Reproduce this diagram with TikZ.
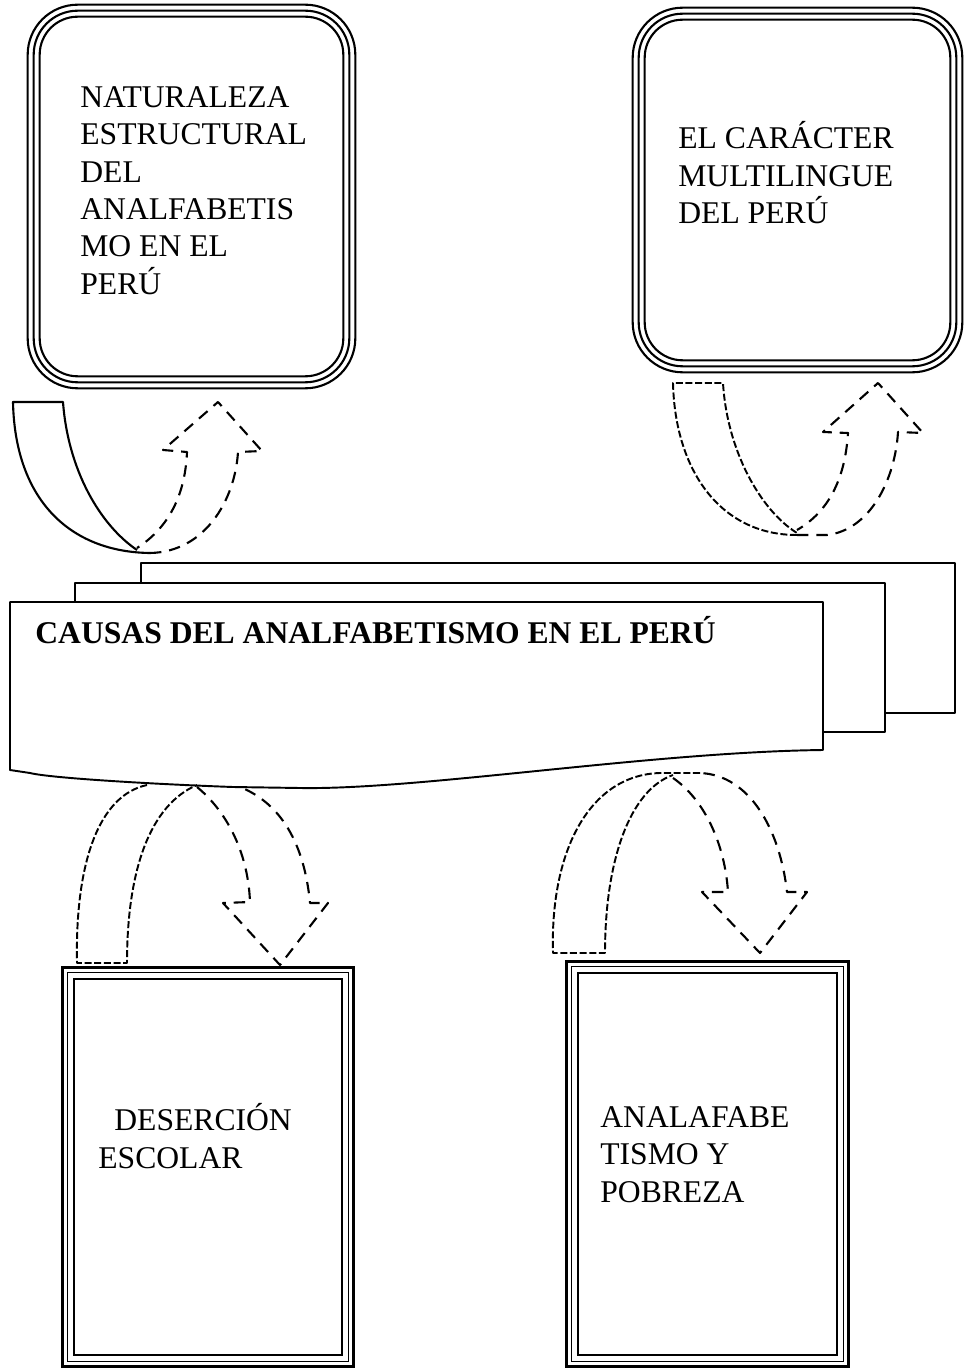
\documentclass[tikz,border=0pt]{standalone}
\usepackage{fontspec}
\setmainfont{Liberation Serif}
\usetikzlibrary{positioning,calc}

\tikzset{
  boxtxt/.style={font=\fontsize{18}{21.3}\selectfont, align=left, inner sep=0pt},
  boxhold/.style={inner sep=0pt},
  tailline/.style={line width=1.2pt, line join=round},
  finetail/.style={line width=1.1pt, dash pattern=on 4pt off 1.5pt, line join=round},
  headline/.style={line width=1.2pt, dash pattern=on 6.5pt off 4.5pt, line join=round},
  banner/.style={line width=1.1pt, line join=round}
}

\begin{document}
\begin{tikzpicture}[x=0.02cm, y=-0.02cm]
\useasboundingbox (0,0) rectangle (964,1371);

% upper boxes
\node[boxhold, minimum width=6.54cm, minimum height=7.66cm] (naturaleza) at (191.5,196.5) {};
\node[boxhold, minimum width=6.58cm, minimum height=7.28cm] (multilingue) at (797.5,190) {};
\foreach \b in {naturaleza,multilingue} {
  \foreach \d/\r in {0/1.0,6/0.88,12/0.76} {
    \draw[line width=1.2pt, rounded corners=\r cm] ([shift={(\d,\d)}]\b.north west) rectangle ([shift={(-\d,-\d)}]\b.south east);
  }
}
\node[boxtxt, anchor=west] (naturalezatxt) at (80,190.5) {NATURALEZA\\ESTRUCTURAL\\DEL\\ANALFABETIS\\MO EN EL\\PERÚ};
\node[boxtxt, anchor=west] (multilinguetxt) at (678,173) {EL CARÁCTER\\MULTILINGUE\\DEL PERÚ};

% curved arrows above the banner
\draw[tailline] (150,553) .. controls (70,552) and (15,500) .. (13,402) -- (63,402) .. controls (68,470) and (100,525) .. (137,550);
\draw[headline] (150,553) .. controls (205,552) and (235,500) .. (238,452) -- (262,451) -- (218,402) -- (163,450) -- (187,452) .. controls (185,500) and (165,530) .. (137,548);

\draw[finetail] (797,535) .. controls (720,535) and (675,470) .. (673,383) -- (723,383) .. controls (727,450) and (760,510) .. (797,533);
\draw[headline] (797,535) -- (827,535) .. controls (870,530) and (895,480) .. (898,432) -- (923,433) -- (878,383) -- (823,432) -- (848,433) .. controls (845,480) and (828,512) .. (797,530);

% banner
\draw[banner] (141,583) -- (141,563) -- (955,563) -- (955,713) -- (885,713);
\draw[banner] (75,602) -- (75,583) -- (885,583) -- (885,732) -- (823,732);
\draw[banner] (10,602) -- (823,602) -- (823,750) .. controls (650,752) and (420,790) .. (300,788) -- (233,787) .. controls (150,784) and (50,778) .. (30,773) -- (10,770) -- cycle;
\node[font=\fontsize{18}{21.3}\selectfont\bfseries, anchor=west, inner sep=0pt] (causas) at (35,630) {CAUSAS DEL ANALFABETISMO EN EL PERÚ};

% curved arrows below the banner
\draw[finetail] (147,785) .. controls (100,795) and (75,860) .. (77,963) -- (127,963) .. controls (127,870) and (150,805) .. (197,785);
\draw[headline] (197,787) .. controls (225,810) and (248,850) .. (250,902) -- (223,903) -- (280,965) -- (328,903) -- (310,903) .. controls (305,850) and (285,805) .. (240,787);

\draw[finetail] (700,773) -- (660,773) .. controls (590,775) and (550,850) .. (553,953) -- (605,953) .. controls (605,860) and (630,790) .. (673,775);
\draw[headline] (673,778) .. controls (705,800) and (725,845) .. (728,892) -- (702,892) -- (760,953) -- (807,892) -- (787,892) .. controls (780,830) and (750,775) .. (700,773);

% lower boxes
\node[boxhold, minimum width=5.8cm, minimum height=7.96cm] (desercion) at (208,1167) {};
\node[boxhold, minimum width=5.62cm, minimum height=8.08cm] (pobreza) at (707.5,1164) {};
\foreach \b in {desercion,pobreza} {
  \foreach \d/\w in {0/1.4pt,5/0.6pt,11/1.2pt} {
    \draw[line width=\w] ([shift={(\d,\d)}]\b.north west) rectangle ([shift={(-\d,-\d)}]\b.south east);
  }
}
\node[boxtxt, anchor=west] (deserciontxt) at (98,1136) {\hspace*{0.32cm}DESERCIÓN\\ESCOLAR};
\node[boxtxt, anchor=west] (pobrezatxt) at (600,1154.5) {ANALAFABE\\TISMO Y\\POBREZA};

\end{tikzpicture}
\end{document}
